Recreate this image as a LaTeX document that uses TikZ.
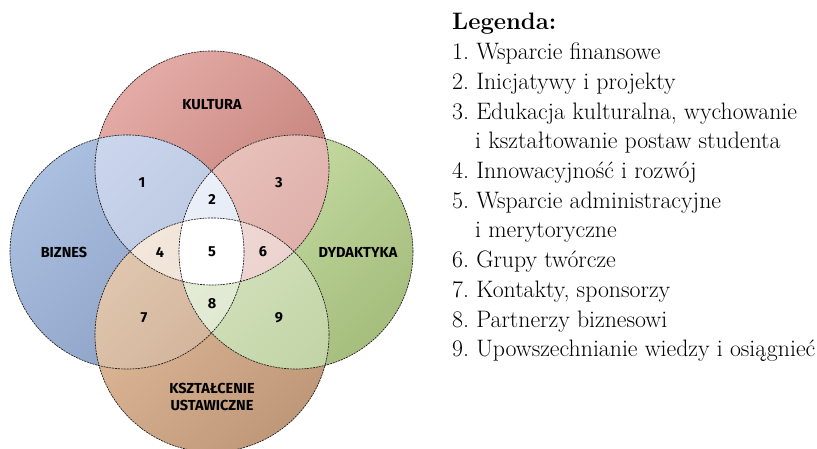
\documentclass[tikz,border=0pt]{standalone}
\usepackage{fontspec}
\newfontfamily\vennfont{Fira Sans}

\definecolor{kulA}{HTML}{E4ABA6}
\definecolor{kulB}{HTML}{C07C74}
\definecolor{bizA}{HTML}{ABBFE0}
\definecolor{bizB}{HTML}{899EC3}
\definecolor{dydA}{HTML}{CBE0A8}
\definecolor{dydB}{HTML}{A5BD7D}
\definecolor{kszA}{HTML}{E3BC9C}
\definecolor{kszB}{HTML}{BE9878}
\definecolor{oneA}{HTML}{CDD8EE}
\definecolor{oneB}{HTML}{B4C2DD}
\definecolor{threeA}{HTML}{E8C0BA}
\definecolor{threeB}{HTML}{D4A099}
\definecolor{sevenA}{HTML}{EDD6C2}
\definecolor{sevenB}{HTML}{D3B69C}
\definecolor{nineA}{HTML}{DAE7C5}
\definecolor{nineB}{HTML}{C0D2A3}
\definecolor{twoA}{HTML}{EAEFF8}
\definecolor{twoB}{HTML}{DCE3F2}
\definecolor{fourA}{HTML}{F3E7DC}
\definecolor{fourB}{HTML}{E8D7C8}
\definecolor{sixA}{HTML}{F5E4E1}
\definecolor{sixB}{HTML}{ECD3CF}
\definecolor{eightA}{HTML}{EDF3E5}
\definecolor{eightB}{HTML}{E0E9D1}

\begin{document}
\begin{tikzpicture}[x=1pt,y=-1pt,
  ring/.style={draw=black!90,line width=0.65pt,dash pattern=on 2pt off 0.9pt},
  setname/.style={font=\vennfont\bfseries\fontsize{14.5}{17.5}\selectfont,align=center,inner sep=1pt},
  areanum/.style={font=\vennfont\bfseries\fontsize{14.5}{16}\selectfont,inner sep=1pt},
  legline/.style={anchor=base west,inner sep=0pt,font=\fontsize{23.8}{26}\selectfont\frenchspacing}]

  \newcommand\Rad{117pt};
  \useasboundingbox (0,0) rectangle (817,449);

  \coordinate (kul) at (212,168);
  \coordinate (biz) at (127,252);
  \coordinate (dyd) at (296,252);
  \coordinate (ksz) at (212,335);

  %% whole circles
  \shade[top color=kulA,bottom color=kulB,shading angle=45] (kul) circle[radius=\Rad];
  \shade[top color=bizA,bottom color=bizB,shading angle=45] (biz) circle[radius=\Rad];
  \shade[top color=dydA,bottom color=dydB,shading angle=45] (dyd) circle[radius=\Rad];
  \shade[top color=kszA,bottom color=kszB,shading angle=45] (ksz) circle[radius=\Rad];

  %% two sets
  \begin{scope}
    \clip (kul) circle[radius=\Rad];
    \shade[top color=oneA,bottom color=oneB,shading angle=45] (biz) circle[radius=\Rad]; %% 1
    \shade[top color=threeA,bottom color=threeB,shading angle=45] (dyd) circle[radius=\Rad]; %% 3
  \end{scope}
  \begin{scope}
    \clip (ksz) circle[radius=\Rad];
    \shade[top color=sevenA,bottom color=sevenB,shading angle=45] (biz) circle[radius=\Rad]; %% 7
    \shade[top color=nineA,bottom color=nineB,shading angle=45] (dyd) circle[radius=\Rad]; %% 9
  \end{scope}

  %% three sets
  \begin{scope}
    \clip (kul) circle[radius=\Rad];
    \clip (biz) circle[radius=\Rad];
    \shade[top color=twoA,bottom color=twoB,shading angle=45] (dyd) circle[radius=\Rad]; %% 2
    \shade[top color=fourA,bottom color=fourB,shading angle=45] (ksz) circle[radius=\Rad]; %% 4
  \end{scope}
  \begin{scope}
    \clip (ksz) circle[radius=\Rad];
    \clip (dyd) circle[radius=\Rad];
    \shade[top color=sixA,bottom color=sixB,shading angle=45] (kul) circle[radius=\Rad]; %% 6
    \shade[top color=eightA,bottom color=eightB,shading angle=45] (biz) circle[radius=\Rad]; %% 8
  \end{scope}

  %% four sets
  \begin{scope}
    \clip (kul) circle[radius=\Rad];
    \clip (biz) circle[radius=\Rad];
    \clip (dyd) circle[radius=\Rad];
    \fill[white] (ksz) circle[radius=\Rad]; %% 5
  \end{scope}

  \draw[ring] (kul) circle[radius=\Rad];
  \draw[ring] (biz) circle[radius=\Rad];
  \draw[ring] (dyd) circle[radius=\Rad];
  \draw[ring] (ksz) circle[radius=\Rad];

  \node[setname] (kultura) at (212,105) {KULTURA};
  \node[setname] (biznes) at (64,252) {BIZNES};
  \node[setname] (dydaktyka) at (358,252) {DYDAKTYKA};
  \node[setname] (ksztalcenie) at (212,397) {KSZTAŁCENIE\\USTAWICZNE};

  \node[areanum] (n1) at (142,183) {1};
  \node[areanum] (n2) at (212,199) {2};
  \node[areanum] (n3) at (279,183) {3};
  \node[areanum] (n4) at (160,252) {4};
  \node[areanum] (n5) at (212,252) {5};
  \node[areanum] (n6) at (263,252) {6};
  \node[areanum] (n7) at (144,318) {7};
  \node[areanum] (n8) at (212,304) {8};
  \node[areanum] (n9) at (279,318) {9};

  %% legend
  \node[legline] (leg0) at (452,30) {\bfseries Legenda:};
  \node[legline] (leg1) at (452,59.7) {1. Wsparcie finansowe};
  \node[legline] (leg2) at (452,89.4) {2. Inicjatywy i projekty};
  \node[legline] (leg3) at (452,119.1) {3. Edukacja kulturalna, wychowanie};
  \node[legline] (leg3b) at (475,148.8) {i kształtowanie postaw studenta};
  \node[legline] (leg4) at (452,178.5) {4. Innowacyjność i rozwój};
  \node[legline] (leg5) at (452,208.2) {5. Wsparcie administracyjne};
  \node[legline] (leg5b) at (475,237.9) {i merytoryczne};
  \node[legline] (leg6) at (452,267.6) {6. Grupy twórcze};
  \node[legline] (leg7) at (452,297.3) {7. Kontakty, sponsorzy};
  \node[legline] (leg8) at (452,327) {8. Partnerzy biznesowi};
  \node[legline] (leg9) at (452,356.7) {9. Upowszechnianie wiedzy i osiągnieć};

\end{tikzpicture}
\end{document}
